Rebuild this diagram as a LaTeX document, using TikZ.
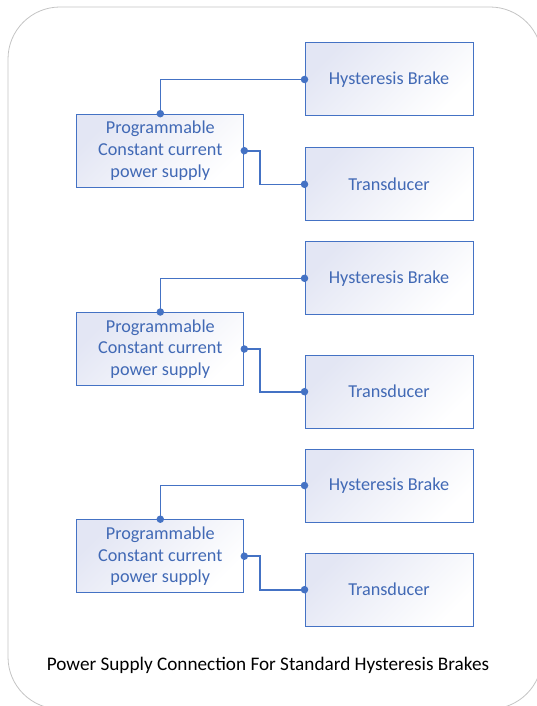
\documentclass[tikz,border=0pt]{standalone}
\usepackage{fontspec}
\setmainfont{Carlito}
\begin{document}
\begin{tikzpicture}[x=1pt,y=-1pt,
  blk/.style={draw=bord, line width=1pt, top color=lav, bottom color=white, shading angle=45,
    minimum width=168pt, minimum height=73pt, inner sep=0pt, text=txt, align=center,
    font=\fontsize{18.2}{21.6}\selectfont},
  wire/.style={draw=bord, line width=1.6pt},
  dot/.style={circle, fill=bord, inner sep=0pt, minimum size=7.5pt}]
\definecolor{bord}{HTML}{4472C4}
\definecolor{txt}{HTML}{4169B5}
\definecolor{lav}{HTML}{E3E6F4}
\definecolor{frame}{HTML}{C4C4C4}
\useasboundingbox (0,0) rectangle (537,706);
\begin{scope}
\clip (0,0) rectangle (537,706);
\draw[frame, line width=0.8pt, rounded corners=52pt] (8,7) rectangle (542,709);
\end{scope}
% group 1
\node[blk] (hb1) at (389,79.5) {Hysteresis Brake};
\node[blk, minimum width=167pt] (ps1) at (160.3,150.7) {Programmable\\Constant current\\power supply};
\node[blk] (t1) at (389,184.3) {Transducer};
% group 2
\node[blk] (hb2) at (389,278.3) {Hysteresis Brake};
\node[blk, minimum width=167pt] (ps2) at (160.3,349) {Programmable\\Constant current\\power supply};
\node[blk] (t2) at (389,391.7) {Transducer};
% group 3
\node[blk] (hb3) at (389,485.5) {Hysteresis Brake};
\node[blk, minimum width=167pt] (ps3) at (160.3,556.2) {Programmable\\Constant current\\power supply};
\node[blk] (t3) at (389,589.7) {Transducer};
\foreach \g in {1,2,3}{
  \draw[wire] (ps\g.north) |- (hb\g.west);
  \draw[wire] (ps\g.east) -- (260,0 |- ps\g.east) |- (t\g.west);
  \node[dot] at (ps\g.north) {};
  \node[dot] at (hb\g.west) {};
  \node[dot] at (ps\g.east) {};
  \node[dot] at (t\g.west) {};
}
\node[font=\fontsize{19.2}{22}\selectfont, text=black] (cap) at (268,665.7) {Power Supply Connection For Standard Hysteresis Brakes};
\end{tikzpicture}
\end{document}
